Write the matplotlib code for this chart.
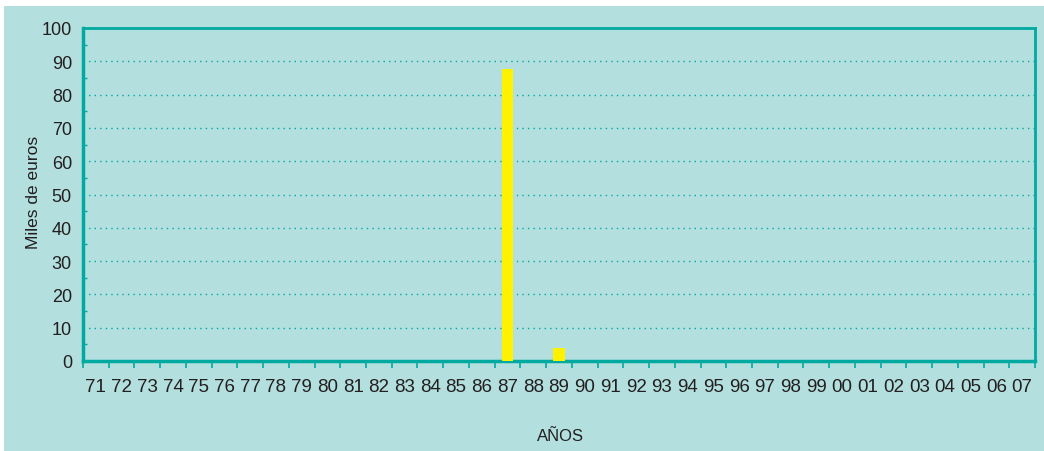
import numpy as np
import matplotlib.pyplot as plt
from matplotlib.patches import Rectangle
from matplotlib.ticker import MultipleLocator

# Data
years = [f"{y % 100:02d}" for y in range(1971, 2008)]
values = [0] * len(years)
values[years.index("87")] = 87.6
values[years.index("89")] = 4.0

bg = "#b3dfde"
teal = "#00aaa0"
txt = "#231f20"

plt.rcParams["font.family"] = ["Liberation Sans", "DejaVu Sans"]

fig = plt.figure(figsize=(10.44, 4.52), dpi=100)
fig.patch.set_facecolor("white")
fig.patches.append(Rectangle((4 / 1044, 0), 1 - 4 / 1044, 1 - 7 / 452,
                             transform=fig.transFigure, facecolor=bg,
                             edgecolor="none", zorder=-10))

ax = fig.add_axes([83 / 1044, 1 - 362 / 452, (1035 - 83) / 1044, (362 - 29) / 452])
ax.set_facecolor(bg)

x = np.arange(len(years))
ax.bar(x, values, width=0.46, color="#fff200", zorder=3)

ax.set_xlim(-0.5, len(years) - 0.5)
ax.set_ylim(0, 100)

# x ticks: marks at category boundaries, labels at centres
ax.set_xticks(np.arange(len(years) + 1) - 0.5)
ax.set_xticklabels([])
ax.set_xticks(x, minor=True)
ax.set_xticklabels(years, minor=True)
ax.tick_params(axis="x", which="major", direction="out", length=5, width=1.2,
               color=teal)
ax.tick_params(axis="x", which="minor", length=0, pad=12, labelsize=13.5,
               labelcolor=txt)

ax.yaxis.set_major_locator(MultipleLocator(10))
ax.yaxis.set_minor_locator(MultipleLocator(5))
ax.tick_params(axis="y", which="major", length=0, pad=8, labelsize=13,
               labelcolor=txt)
ax.tick_params(axis="y", which="minor", direction="in", length=3, width=1,
               color=teal)

ax.grid(axis="y", which="major", color=teal, linestyle=(0, (1, 3)),
        linewidth=1, zorder=1)

for s in ["left", "bottom"]:
    ax.spines[s].set_linewidth(2.5)
for s in ["top", "right"]:
    ax.spines[s].set_linewidth(2)
for s in ax.spines.values():
    s.set_color(teal)

# Axis titles placed at their pixel positions
fig.text(33 / 1044, 1 - 192 / 452, "Miles de euros", rotation=90,
         ha="center", va="center", fontsize=12.5, color=txt)
fig.text(560 / 1044, 1 - 437 / 452, "AÑOS", ha="center", va="center",
         fontsize=12, color=txt)

fig.savefig("out.png", dpi=100, facecolor=fig.get_facecolor())
